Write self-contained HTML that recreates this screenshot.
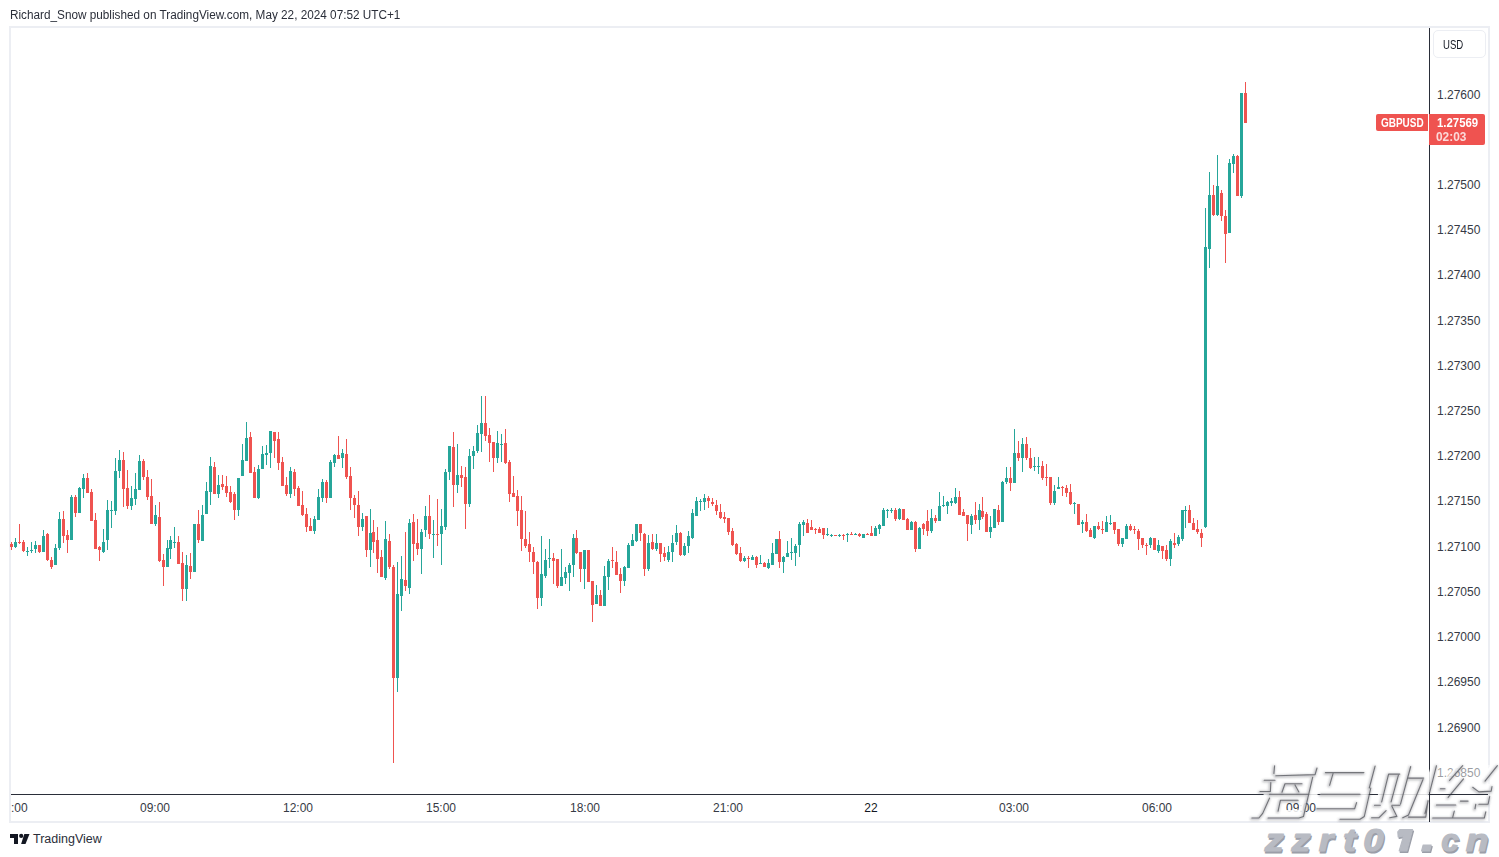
<!DOCTYPE html>
<html><head><meta charset="utf-8">
<style>
html,body{margin:0;padding:0;background:#fff;}
body{width:1499px;height:857px;position:relative;overflow:hidden;font-family:"Liberation Sans",sans-serif;color:#131722;}
.hdr{position:absolute;left:10px;top:7px;transform:scaleX(0.98);transform-origin:0 0;font-size:12px;line-height:16px;color:#2a2e39;white-space:nowrap;}
.frame{position:absolute;left:9px;top:26px;width:1477px;height:793px;border:2px solid #eceef3;}
.vline{position:absolute;left:1429px;top:28px;width:1px;height:794px;background:#2a2e39;}
.hline{position:absolute;left:11px;top:794px;width:1477px;height:1px;background:#2a2e39;}
.usd{position:absolute;left:1433px;top:30px;width:51px;height:26px;border:1px solid #eceef3;border-radius:5px;font-size:12px;line-height:26px;color:#131722;}
.usd span{position:absolute;left:9px;top:1px;transform:scaleX(0.8);transform-origin:0 0;}
.pl{position:absolute;left:1437px;font-size:12px;line-height:14px;color:#363a45;white-space:nowrap;}
.tl{position:absolute;top:801px;width:60px;text-align:center;font-size:12px;line-height:14px;color:#363a45;white-space:nowrap;}
.tl.b{color:#131722;}
.sym{position:absolute;left:1376px;top:114px;width:52px;height:17px;background:#ef5350;border-radius:2px 0 0 2px;color:#fff;font-weight:bold;font-size:12px;line-height:17px;}
.sym span{position:absolute;left:4.5px;top:0.5px;transform:scaleX(0.83);transform-origin:0 0;white-space:nowrap;}
.px{position:absolute;left:1429px;top:114px;width:56px;height:31px;background:#ef5350;border-radius:0 2px 2px 0;color:#fff;font-size:12px;}
.px .a{position:absolute;left:7.5px;top:2px;font-weight:bold;line-height:14px;transform:scaleX(0.95);transform-origin:0 0;}
.px .b2{position:absolute;left:7px;top:16px;font-weight:bold;line-height:14px;color:#fbd9d9;transform:scaleX(0.99);transform-origin:0 0;}
.logo{position:absolute;left:9px;top:833px;}
.tv{position:absolute;left:33px;top:831px;font-size:12.5px;line-height:16px;color:#2a2e39;}
svg{position:absolute;left:0;top:0;}
</style></head><body>
<div class="hdr">Richard_Snow published on TradingView.com, May 22, 2024 07:52 UTC+1</div>
<div class="frame"></div>
<svg width="1499" height="857" style="shape-rendering:crispEdges"><path fill="#26a69a" d="M15 538h1v10h-1zM14 542h3v5h-3zM27 547h1v9h-1zM26 551h3v1h-3zM31 542h1v11h-1zM30 550h3v1h-3zM35 541h1v12h-1zM34 545h3v4h-3zM43 530h1v22h-1zM42 536h3v16h-3zM55 544h1v21h-1zM54 548h3v17h-3zM59 512h1v38h-1zM58 519h3v29h-3zM71 495h1v45h-1zM70 497h3v43h-3zM79 487h1v26h-1zM78 488h3v25h-3zM83 474h1v24h-1zM82 478h3v11h-3zM103 529h1v24h-1zM102 542h3v10h-3zM107 500h1v50h-1zM106 510h3v30h-3zM111 501h1v27h-1zM110 510h3v1h-3zM115 458h1v57h-1zM114 471h3v40h-3zM119 450h1v28h-1zM118 460h3v11h-3zM131 486h1v24h-1zM130 498h3v8h-3zM135 473h1v32h-1zM134 489h3v10h-3zM139 455h1v35h-1zM138 461h3v29h-3zM155 505h1v21h-1zM154 515h3v9h-3zM167 540h1v27h-1zM166 548h3v19h-3zM170 536h1v23h-1zM169 540h3v9h-3zM174 527h1v21h-1zM173 542h3v1h-3zM186 555h1v46h-1zM185 565h3v24h-3zM194 524h1v48h-1zM193 524h3v48h-3zM202 505h1v36h-1zM201 515h3v26h-3zM206 482h1v32h-1zM205 491h3v23h-3zM210 457h1v48h-1zM209 466h3v26h-3zM218 475h1v23h-1zM217 485h3v9h-3zM238 478h1v38h-1zM237 478h3v32h-3zM242 444h1v32h-1zM241 460h3v16h-3zM246 422h1v39h-1zM245 438h3v23h-3zM258 465h1v34h-1zM257 469h3v29h-3zM262 446h1v23h-1zM261 454h3v15h-3zM266 445h1v20h-1zM265 453h3v2h-3zM270 431h1v37h-1zM269 431h3v22h-3zM290 467h1v31h-1zM289 471h3v23h-3zM314 516h1v18h-1zM313 519h3v12h-3zM318 489h1v31h-1zM317 497h3v23h-3zM322 479h1v23h-1zM321 482h3v16h-3zM330 460h1v38h-1zM329 462h3v36h-3zM334 454h1v13h-1zM333 455h3v8h-3zM342 449h1v19h-1zM341 453h3v5h-3zM362 513h1v18h-1zM361 519h3v8h-3zM370 509h1v58h-1zM369 533h3v17h-3zM385 521h1v59h-1zM384 539h3v39h-3zM397 562h1v130h-1zM396 594h3v84h-3zM401 556h1v55h-1zM400 579h3v17h-3zM409 519h1v75h-1zM408 523h3v65h-3zM421 529h1v45h-1zM420 532h3v17h-3zM425 506h1v31h-1zM424 516h3v14h-3zM433 520h1v38h-1zM432 534h3v1h-3zM441 509h1v56h-1zM440 526h3v8h-3zM445 469h1v61h-1zM444 472h3v55h-3zM449 446h1v34h-1zM448 446h3v26h-3zM457 444h1v49h-1zM456 475h3v10h-3zM469 449h1v58h-1zM468 456h3v48h-3zM473 446h1v23h-1zM472 451h3v5h-3zM477 425h1v28h-1zM476 433h3v18h-3zM481 396h1v56h-1zM480 423h3v11h-3zM497 431h1v32h-1zM496 443h3v15h-3zM501 434h1v28h-1zM500 444h3v1h-3zM541 536h1v70h-1zM540 574h3v24h-3zM545 549h1v29h-1zM544 560h3v16h-3zM549 539h1v29h-1zM548 558h3v1h-3zM561 549h1v37h-1zM560 577h3v9h-3zM565 567h1v17h-1zM564 572h3v6h-3zM569 563h1v28h-1zM568 565h3v8h-3zM573 534h1v43h-1zM572 538h3v27h-3zM584 550h1v39h-1zM583 550h3v19h-3zM596 585h1v19h-1zM595 595h3v9h-3zM604 566h1v40h-1zM603 576h3v30h-3zM608 559h1v31h-1zM607 561h3v16h-3zM624 566h1v20h-1zM623 567h3v14h-3zM628 543h1v25h-1zM627 545h3v23h-3zM632 534h1v12h-1zM631 540h3v6h-3zM636 524h1v18h-1zM635 524h3v17h-3zM648 535h1v36h-1zM647 543h3v26h-3zM656 534h1v17h-1zM655 543h3v6h-3zM668 546h1v16h-1zM667 552h3v8h-3zM672 535h1v27h-1zM671 543h3v9h-3zM676 525h1v20h-1zM675 533h3v9h-3zM684 543h1v13h-1zM683 546h3v9h-3zM688 531h1v22h-1zM687 536h3v10h-3zM692 509h1v30h-1zM691 513h3v25h-3zM696 497h1v19h-1zM695 501h3v15h-3zM700 499h1v12h-1zM699 501h3v1h-3zM704 494h1v16h-1zM703 498h3v4h-3zM744 556h1v6h-1zM743 558h3v3h-3zM752 555h1v5h-1zM751 557h3v3h-3zM760 555h1v9h-1zM759 563h3v1h-3zM768 559h1v10h-1zM767 563h3v5h-3zM772 543h1v22h-1zM771 553h3v12h-3zM776 539h1v15h-1zM775 539h3v15h-3zM783 556h1v17h-1zM782 557h3v5h-3zM787 541h1v16h-1zM786 553h3v4h-3zM791 538h1v22h-1zM790 552h3v1h-3zM795 544h1v22h-1zM794 546h3v7h-3zM799 522h1v35h-1zM798 524h3v21h-3zM803 520h1v16h-1zM802 522h3v3h-3zM827 528h1v8h-1zM826 534h3v1h-3zM831 534h1v3h-1zM830 535h3v1h-3zM839 534h1v3h-1zM838 535h3v1h-3zM847 533h1v9h-1zM846 534h3v1h-3zM855 533h1v2h-1zM854 534h3v1h-3zM863 534h1v4h-1zM862 534h3v4h-3zM875 526h1v10h-1zM874 528h3v8h-3zM879 524h1v10h-1zM878 525h3v4h-3zM883 508h1v18h-1zM882 510h3v16h-3zM887 509h1v9h-1zM886 510h3v1h-3zM891 508h1v5h-1zM890 510h3v1h-3zM899 508h1v12h-1zM898 509h3v10h-3zM911 521h1v9h-1zM910 522h3v8h-3zM919 527h1v22h-1zM918 528h3v21h-3zM931 509h1v24h-1zM930 518h3v13h-3zM939 492h1v29h-1zM938 506h3v15h-3zM943 496h1v11h-1zM942 505h3v1h-3zM947 501h1v13h-1zM946 502h3v4h-3zM951 498h1v8h-1zM950 501h3v2h-3zM955 488h1v16h-1zM954 497h3v6h-3zM971 514h1v20h-1zM970 516h3v9h-3zM979 504h1v26h-1zM978 510h3v10h-3zM990 516h1v22h-1zM989 527h3v5h-3zM994 509h1v19h-1zM993 509h3v19h-3zM1002 481h1v41h-1zM1001 482h3v40h-3zM1006 467h1v17h-1zM1005 478h3v4h-3zM1014 429h1v54h-1zM1013 453h3v30h-3zM1022 438h1v34h-1zM1021 444h3v14h-3zM1034 457h1v14h-1zM1033 466h3v1h-3zM1038 457h1v17h-1zM1037 466h3v1h-3zM1054 485h1v20h-1zM1053 491h3v12h-3zM1058 477h1v12h-1zM1057 487h3v2h-3zM1074 502h1v12h-1zM1073 503h3v1h-3zM1082 520h1v13h-1zM1081 522h3v2h-3zM1094 526h1v13h-1zM1093 526h3v12h-3zM1106 516h1v16h-1zM1105 522h3v10h-3zM1110 515h1v10h-1zM1109 523h3v1h-3zM1122 538h1v9h-1zM1121 538h3v6h-3zM1126 524h1v15h-1zM1125 526h3v13h-3zM1150 537h1v11h-1zM1149 538h3v7h-3zM1158 540h1v13h-1zM1157 545h3v6h-3zM1170 539h1v27h-1zM1169 541h3v18h-3zM1178 535h1v11h-1zM1177 537h3v7h-3zM1182 510h1v31h-1zM1181 510h3v29h-3zM1185 506h1v22h-1zM1184 510h3v1h-3zM1205 208h1v320h-1zM1204 247h3v280h-3zM1209 172h1v96h-1zM1208 195h3v54h-3zM1217 155h1v61h-1zM1216 186h3v29h-3zM1229 159h1v74h-1zM1228 163h3v70h-3zM1233 154h1v19h-1zM1232 156h3v8h-3zM1241 93h1v105h-1zM1240 93h3v103h-3z"/><path fill="#ef5350" d="M11 542h1v8h-1zM10 544h3v3h-3zM19 524h1v20h-1zM18 542h3v1h-3zM23 540h1v12h-1zM22 542h3v9h-3zM39 545h1v8h-1zM38 545h3v7h-3zM47 533h1v28h-1zM46 534h3v26h-3zM51 557h1v12h-1zM50 560h3v7h-3zM63 511h1v32h-1zM62 519h3v17h-3zM67 530h1v23h-1zM66 535h3v5h-3zM75 495h1v22h-1zM74 497h3v16h-3zM87 473h1v20h-1zM86 478h3v15h-3zM91 489h1v32h-1zM90 492h3v29h-3zM95 513h1v36h-1zM94 520h3v29h-3zM99 546h1v15h-1zM98 547h3v3h-3zM123 452h1v55h-1zM122 460h3v29h-3zM127 470h1v39h-1zM126 488h3v18h-3zM143 459h1v21h-1zM142 461h3v16h-3zM147 470h1v30h-1zM146 477h3v20h-3zM151 479h1v45h-1zM150 496h3v28h-3zM159 502h1v60h-1zM158 517h3v44h-3zM163 554h1v32h-1zM162 560h3v7h-3zM178 536h1v28h-1zM177 542h3v22h-3zM182 552h1v49h-1zM181 563h3v26h-3zM190 553h1v26h-1zM189 566h3v6h-3zM198 510h1v33h-1zM197 524h3v16h-3zM214 462h1v32h-1zM213 467h3v27h-3zM222 475h1v15h-1zM221 484h3v3h-3zM226 476h1v21h-1zM225 486h3v7h-3zM230 486h1v17h-1zM229 492h3v10h-3zM234 492h1v28h-1zM233 494h3v16h-3zM250 432h1v41h-1zM249 437h3v36h-3zM254 467h1v31h-1zM253 472h3v26h-3zM274 432h1v26h-1zM273 432h3v9h-3zM278 432h1v38h-1zM277 439h3v24h-3zM282 457h1v29h-1zM281 462h3v24h-3zM286 477h1v19h-1zM285 485h3v9h-3zM294 469h1v27h-1zM293 472h3v17h-3zM298 486h1v20h-1zM297 488h3v18h-3zM302 491h1v25h-1zM301 505h3v10h-3zM306 508h1v24h-1zM305 514h3v13h-3zM310 518h1v13h-1zM309 526h3v5h-3zM326 480h1v23h-1zM325 482h3v16h-3zM338 436h1v23h-1zM337 455h3v4h-3zM346 439h1v40h-1zM345 454h3v23h-3zM350 467h1v43h-1zM349 476h3v22h-3zM354 495h1v23h-1zM353 498h3v7h-3zM358 491h1v45h-1zM357 505h3v22h-3zM366 516h1v41h-1zM365 516h3v34h-3zM373 520h1v33h-1zM372 532h3v10h-3zM377 527h1v46h-1zM376 540h3v19h-3zM381 550h1v27h-1zM380 557h3v20h-3zM389 534h1v35h-1zM388 541h3v26h-3zM393 565h1v198h-1zM392 567h3v111h-3zM405 532h1v59h-1zM404 580h3v6h-3zM413 514h1v47h-1zM412 522h3v22h-3zM417 519h1v36h-1zM416 543h3v6h-3zM429 495h1v44h-1zM428 516h3v18h-3zM437 499h1v47h-1zM436 534h3v1h-3zM453 432h1v75h-1zM452 447h3v38h-3zM461 466h1v21h-1zM460 475h3v3h-3zM465 467h1v62h-1zM464 477h3v27h-3zM485 396h1v45h-1zM484 423h3v13h-3zM489 428h1v34h-1zM488 435h3v8h-3zM493 442h1v30h-1zM492 442h3v16h-3zM505 429h1v35h-1zM504 443h3v20h-3zM509 460h1v42h-1zM508 462h3v32h-3zM513 476h1v21h-1zM512 493h3v4h-3zM517 490h1v36h-1zM516 496h3v15h-3zM521 496h1v55h-1zM520 510h3v29h-3zM525 511h1v37h-1zM524 539h3v7h-3zM529 532h1v30h-1zM528 544h3v8h-3zM533 547h1v27h-1zM532 552h3v10h-3zM537 561h1v48h-1zM536 562h3v36h-3zM553 553h1v31h-1zM552 558h3v3h-3zM557 559h1v29h-1zM556 559h3v27h-3zM576 530h1v24h-1zM575 538h3v15h-3zM580 552h1v30h-1zM579 552h3v17h-3zM588 550h1v32h-1zM587 550h3v32h-3zM592 581h1v41h-1zM591 581h3v24h-3zM600 590h1v16h-1zM599 595h3v11h-3zM612 547h1v21h-1zM611 560h3v1h-3zM616 551h1v24h-1zM615 562h3v13h-3zM620 568h1v25h-1zM619 574h3v7h-3zM640 524h1v17h-1zM639 524h3v9h-3zM644 533h1v43h-1zM643 534h3v35h-3zM652 534h1v16h-1zM651 542h3v7h-3zM660 543h1v19h-1zM659 543h3v11h-3zM664 547h1v14h-1zM663 553h3v4h-3zM680 532h1v24h-1zM679 533h3v22h-3zM708 496h1v12h-1zM707 498h3v3h-3zM712 498h1v8h-1zM711 502h3v2h-3zM716 500h1v15h-1zM715 505h3v6h-3zM720 504h1v15h-1zM719 512h3v6h-3zM724 512h1v11h-1zM723 517h3v2h-3zM728 518h1v17h-1zM727 518h3v14h-3zM732 528h1v18h-1zM731 531h3v14h-3zM736 543h1v12h-1zM735 544h3v10h-3zM740 547h1v15h-1zM739 553h3v8h-3zM748 556h1v12h-1zM747 558h3v1h-3zM756 556h1v12h-1zM755 557h3v8h-3zM764 562h1v5h-1zM763 563h3v4h-3zM779 531h1v37h-1zM778 539h3v23h-3zM807 519h1v14h-1zM806 523h3v10h-3zM811 520h1v10h-1zM810 527h3v3h-3zM815 528h1v6h-1zM814 529h3v1h-3zM819 527h1v6h-1zM818 529h3v4h-3zM823 528h1v11h-1zM822 528h3v7h-3zM835 535h1v1h-1zM834 535h3v1h-3zM843 534h1v6h-1zM842 535h3v1h-3zM851 532h1v3h-1zM850 534h3v1h-3zM859 533h1v4h-1zM858 534h3v2h-3zM867 533h1v2h-1zM866 534h3v1h-3zM871 526h1v10h-1zM870 533h3v3h-3zM895 508h1v13h-1zM894 510h3v9h-3zM903 509h1v11h-1zM902 509h3v11h-3zM907 518h1v12h-1zM906 519h3v11h-3zM915 521h1v31h-1zM914 522h3v27h-3zM923 523h1v12h-1zM922 524h3v5h-3zM927 510h1v26h-1zM926 521h3v10h-3zM935 515h1v8h-1zM934 518h3v3h-3zM959 491h1v24h-1zM958 497h3v18h-3zM963 509h1v7h-1zM962 512h3v4h-3zM967 515h1v26h-1zM966 515h3v9h-3zM975 502h1v22h-1zM974 515h3v5h-3zM982 497h1v22h-1zM981 511h3v6h-3zM986 512h1v20h-1zM985 514h3v18h-3zM998 505h1v20h-1zM997 510h3v12h-3zM1010 467h1v24h-1zM1009 478h3v5h-3zM1018 441h1v20h-1zM1017 453h3v5h-3zM1026 437h1v23h-1zM1025 444h3v14h-3zM1030 448h1v21h-1zM1029 458h3v10h-3zM1042 461h1v19h-1zM1041 466h3v12h-3zM1046 464h1v22h-1zM1045 477h3v1h-3zM1050 477h1v28h-1zM1049 477h3v26h-3zM1062 486h1v10h-1zM1061 487h3v1h-3zM1066 485h1v12h-1zM1065 488h3v5h-3zM1070 484h1v21h-1zM1069 492h3v12h-3zM1078 504h1v21h-1zM1077 504h3v21h-3zM1086 514h1v18h-1zM1085 522h3v9h-3zM1090 528h1v9h-1zM1089 530h3v7h-3zM1098 522h1v8h-1zM1097 526h3v3h-3zM1102 521h1v13h-1zM1101 529h3v1h-3zM1114 522h1v12h-1zM1113 522h3v8h-3zM1118 529h1v17h-1zM1117 529h3v15h-3zM1130 524h1v7h-1zM1129 526h3v4h-3zM1134 526h1v8h-1zM1133 529h3v1h-3zM1138 529h1v21h-1zM1137 531h3v8h-3zM1142 538h1v10h-1zM1141 538h3v7h-3zM1146 543h1v12h-1zM1145 545h3v1h-3zM1154 538h1v12h-1zM1153 538h3v12h-3zM1162 546h1v13h-1zM1161 546h3v5h-3zM1166 545h1v16h-1zM1165 550h3v9h-3zM1174 533h1v15h-1zM1173 543h3v2h-3zM1189 505h1v18h-1zM1188 510h3v13h-3zM1193 518h1v12h-1zM1192 523h3v7h-3zM1197 520h1v14h-1zM1196 529h3v3h-3zM1201 529h1v18h-1zM1200 533h3v5h-3zM1213 185h1v31h-1zM1212 195h3v20h-3zM1221 190h1v31h-1zM1220 193h3v23h-3zM1225 210h1v53h-1zM1224 216h3v18h-3zM1237 155h1v41h-1zM1236 156h3v40h-3zM1245 82h1v41h-1zM1244 93h3v30h-3z"/></svg>
<div class="vline"></div>
<div class="hline"></div>
<div class="usd"><span>USD</span></div>
<div class="pl" style="top:87.5px">1.27600</div><div class="pl" style="top:132.7px">1.27550</div><div class="pl" style="top:177.9px">1.27500</div><div class="pl" style="top:223.1px">1.27450</div><div class="pl" style="top:268.4px">1.27400</div><div class="pl" style="top:313.6px">1.27350</div><div class="pl" style="top:358.8px">1.27300</div><div class="pl" style="top:404.0px">1.27250</div><div class="pl" style="top:449.2px">1.27200</div><div class="pl" style="top:494.4px">1.27150</div><div class="pl" style="top:539.7px">1.27100</div><div class="pl" style="top:584.9px">1.27050</div><div class="pl" style="top:630.1px">1.27000</div><div class="pl" style="top:675.3px">1.26950</div><div class="pl" style="top:720.5px">1.26900</div><div class="pl" style="top:765.7px">1.26850</div>
<div class="tl" style="left:11px;text-align:left">:00</div><div class="tl" style="left:125px">09:00</div><div class="tl" style="left:268px">12:00</div><div class="tl" style="left:411px">15:00</div><div class="tl" style="left:555px">18:00</div><div class="tl" style="left:698px">21:00</div><div class="tl b" style="left:841px">22</div><div class="tl" style="left:984px">03:00</div><div class="tl" style="left:1127px">06:00</div><div class="tl" style="left:1271px">09:00</div>
<div class="sym"><span>GBPUSD</span></div>
<div class="px"><div class="a">1.27569</div><div class="b2">02:03</div></div>
<svg class="logo" width="24" height="12" viewBox="0 0 24 12" style="left:9px;top:833px"><path fill="#131722" d="M1 1h8v10h-4v-6h-4z"/><circle cx="12.2" cy="2.9" r="2.1" fill="#131722"/><path fill="#131722" d="M15.3 1h5.2l-4 10h-4.4z"/></svg>
<div class="tv">TradingView</div>
<svg width="1499" height="857" style="pointer-events:none">
<defs><filter id="bl" x="-5%" y="-5%" width="110%" height="110%"><feGaussianBlur stdDeviation="1.1"/></filter><filter id="bl2" x="-5%" y="-5%" width="110%" height="110%"><feGaussianBlur stdDeviation="0.35"/></filter></defs>
<path d="M1264 764.5L1275.5 764.5L1274.5 780.5L1263 780.5ZM1260 782L1271 782L1270 792L1259 792ZM1263 797L1271 797L1262 818.5L1251 818.5ZM1276 765.5L1317 765.5L1315 774.5L1275 774.5ZM1279 783L1285 783L1278 811L1272 811ZM1285 775L1314 775L1312 784L1283 784ZM1306 775L1313 775L1303.5 817L1297 817ZM1266 786L1320 786L1316 800L1262 800ZM1270 810L1306 810L1304 818L1268 818ZM1326 765L1375 765L1373 772.5L1324 772.5ZM1368 765L1375 765L1364 817L1357 817ZM1327 772L1333 772L1329 786L1323 786ZM1322 786L1368 786L1366 796.5L1320 796.5ZM1319 801L1358 801L1356 809L1317 809ZM1341 811L1365 811L1363 819L1339 819ZM1382 766L1400 766L1398 774.5L1380 774.5ZM1382 766L1388 766L1383 801L1377 801ZM1393 766L1399 766L1393 801L1387 801ZM1377 797L1393 797L1392 803L1376 803ZM1377 801L1383 801L1378 818L1371 818ZM1389 803L1394 803L1398 817L1393 817ZM1397 771L1425 771L1423 778L1395 778ZM1404 764L1410.5 764L1397.5 818L1391 818ZM1417 780L1423 780L1408 817L1402 817ZM1400 810L1425 810L1423 818L1398 818ZM1380 789L1428.5 789L1428.5 798L1379 798ZM1431 765L1437 765L1430 792L1424 792ZM1434 781L1446 781L1445 788L1433 788ZM1457 765L1463 765L1450 781L1444 781ZM1457 778L1464 778L1448 797L1441 797ZM1491 765L1498 765L1485 781L1478 781ZM1470 784L1492 784L1491 791L1468 791ZM1437 798L1490 798L1488 805L1435 805ZM1470 805L1476 805L1474 811L1468 811ZM1434 811L1486 811L1485 818L1432 818ZM1430 790L1490 790L1489 798L1430 798Z" fill="#fff" fill-opacity="0.85"/>
<path d="M1431 765L1499 765L1499 790L1430.5 790Z" fill="#fff" fill-opacity="0.5"/>
<path d="M1274.6 765.7L1273.9 773.4M1264.2 780.3L1275.0 780.3M1275.8 775.7L1315.1 774.6L1317.0 768.0M1260.0 791.5L1270.4 791.5L1270.8 782.6M1302.0 783.8L1285.0 783.8L1282.0 792.3M1295.0 784.9L1298.9 791.9M1312.7 777.2L1303.5 816.5L1298.9 818.0M1298.1 800.3L1280.4 800.3L1278.1 811.1M1268.1 818.0L1298.9 818.0M1269.6 798.0L1262.7 813.4L1258.9 818.0L1251.9 818.0M1269.6 794.2L1308.9 794.2M1325.4 772.6L1363.9 772.6M1333.1 773.4L1329.6 785.3M1375.1 766.1L1369.3 788.0M1370.8 788.0L1364.3 816.5L1360.0 819.2L1340.0 819.2M1316.9 808.8L1354.6 808.8L1356.6 802.6M1320.8 794.2L1360.0 794.2M1399.8 774.1L1388.6 774.1L1381.7 801.9M1398.4 775.2L1391.1 801.9M1410.7 766.5L1400.5 804.1M1374.5 805.2L1380.3 805.2M1391.9 805.2L1399.8 805.2M1386.1 810.6L1378.8 817.8L1371.6 817.8M1391.9 806.3L1396.9 816.4L1389.7 817.8M1408.5 778.1L1423.7 778.1M1423.0 779.5L1408.5 815.0L1402.7 817.8M1408.5 817.1L1425.8 817.1L1428.0 800.5M1436.5 765.7L1429.6 792.6M1428.1 801.1L1425.0 813.4M1449.6 780.3L1462.7 765.7M1440.4 788.8L1445.0 788.8M1448.1 797.3L1463.5 778.8M1485.0 781.1L1497.4 765.7M1472.7 787.3L1478.9 791.9L1491.2 791.1L1492.0 786.5M1436.5 805.0L1455.8 805.0M1460.4 801.1L1468.1 801.1M1478.9 804.2L1488.1 804.2L1489.7 796.5M1475.0 808.8L1475.8 804.2M1432.7 818.0L1484.3 818.0L1485.8 811.9M1454.3 811.1L1452.7 817.3" fill="none" stroke="#5a5c61" stroke-width="3" stroke-opacity="0.35" stroke-linecap="round" stroke-linejoin="round" filter="url(#bl)" transform="translate(-0.6,0.8)"/>
<path d="M1274.6 765.7L1273.9 773.4M1264.2 780.3L1275.0 780.3M1275.8 775.7L1315.1 774.6L1317.0 768.0M1260.0 791.5L1270.4 791.5L1270.8 782.6M1302.0 783.8L1285.0 783.8L1282.0 792.3M1295.0 784.9L1298.9 791.9M1312.7 777.2L1303.5 816.5L1298.9 818.0M1298.1 800.3L1280.4 800.3L1278.1 811.1M1268.1 818.0L1298.9 818.0M1269.6 798.0L1262.7 813.4L1258.9 818.0L1251.9 818.0M1269.6 794.2L1308.9 794.2M1325.4 772.6L1363.9 772.6M1333.1 773.4L1329.6 785.3M1375.1 766.1L1369.3 788.0M1370.8 788.0L1364.3 816.5L1360.0 819.2L1340.0 819.2M1316.9 808.8L1354.6 808.8L1356.6 802.6M1320.8 794.2L1360.0 794.2M1399.8 774.1L1388.6 774.1L1381.7 801.9M1398.4 775.2L1391.1 801.9M1410.7 766.5L1400.5 804.1M1374.5 805.2L1380.3 805.2M1391.9 805.2L1399.8 805.2M1386.1 810.6L1378.8 817.8L1371.6 817.8M1391.9 806.3L1396.9 816.4L1389.7 817.8M1408.5 778.1L1423.7 778.1M1423.0 779.5L1408.5 815.0L1402.7 817.8M1408.5 817.1L1425.8 817.1L1428.0 800.5M1436.5 765.7L1429.6 792.6M1428.1 801.1L1425.0 813.4M1449.6 780.3L1462.7 765.7M1440.4 788.8L1445.0 788.8M1448.1 797.3L1463.5 778.8M1485.0 781.1L1497.4 765.7M1472.7 787.3L1478.9 791.9L1491.2 791.1L1492.0 786.5M1436.5 805.0L1455.8 805.0M1460.4 801.1L1468.1 801.1M1478.9 804.2L1488.1 804.2L1489.7 796.5M1475.0 808.8L1475.8 804.2M1432.7 818.0L1484.3 818.0L1485.8 811.9M1454.3 811.1L1452.7 817.3" fill="none" stroke="#4a4c52" stroke-width="1.1" stroke-opacity="0.7" stroke-linecap="round" stroke-linejoin="round" filter="url(#bl2)"/>
<g font-family="Liberation Sans" font-weight="bold" font-style="italic" font-size="31" text-anchor="middle" stroke-width="1.2" stroke-linejoin="round">
<g fill="#9b9ea8" stroke="#9b9ea8" transform="translate(1,1.5)"><text transform="translate(1274.2,851) scale(1.22,1)">z</text><text transform="translate(1301,851) scale(1.22,1)">z</text><text transform="translate(1326,851) scale(1.2,1)">r</text><text transform="translate(1349.5,851) scale(1.25,1)">t</text><text transform="translate(1373.5,851) scale(1.18,1)">0</text><text transform="translate(1450,851) scale(1.02,1)">c</text><text transform="translate(1477,851) scale(1.2,1)">n</text><path d="M1400 829.5L1412.5 829.5L1406.8 850.8L1399.2 850.8L1403.6 835.8L1398.2 836.8L1397.8 831.8Z"/><path d="M1423.2 845L1431.2 845L1429.6 851L1421.6 851Z"/></g>
<g fill="#b8bbc3" stroke="#b8bbc3"><text transform="translate(1274.2,851) scale(1.22,1)">z</text><text transform="translate(1301,851) scale(1.22,1)">z</text><text transform="translate(1326,851) scale(1.2,1)">r</text><text transform="translate(1349.5,851) scale(1.25,1)">t</text><text transform="translate(1373.5,851) scale(1.18,1)">0</text><text transform="translate(1450,851) scale(1.02,1)">c</text><text transform="translate(1477,851) scale(1.2,1)">n</text><path d="M1400 829.5L1412.5 829.5L1406.8 850.8L1399.2 850.8L1403.6 835.8L1398.2 836.8L1397.8 831.8Z"/><path d="M1423.2 845L1431.2 845L1429.6 851L1421.6 851Z"/></g>
</g>
</svg>
<div class="vline" style="top:794px;height:28px"></div><div class="hline" style="left:1429px;width:59px"></div>
</body></html>
